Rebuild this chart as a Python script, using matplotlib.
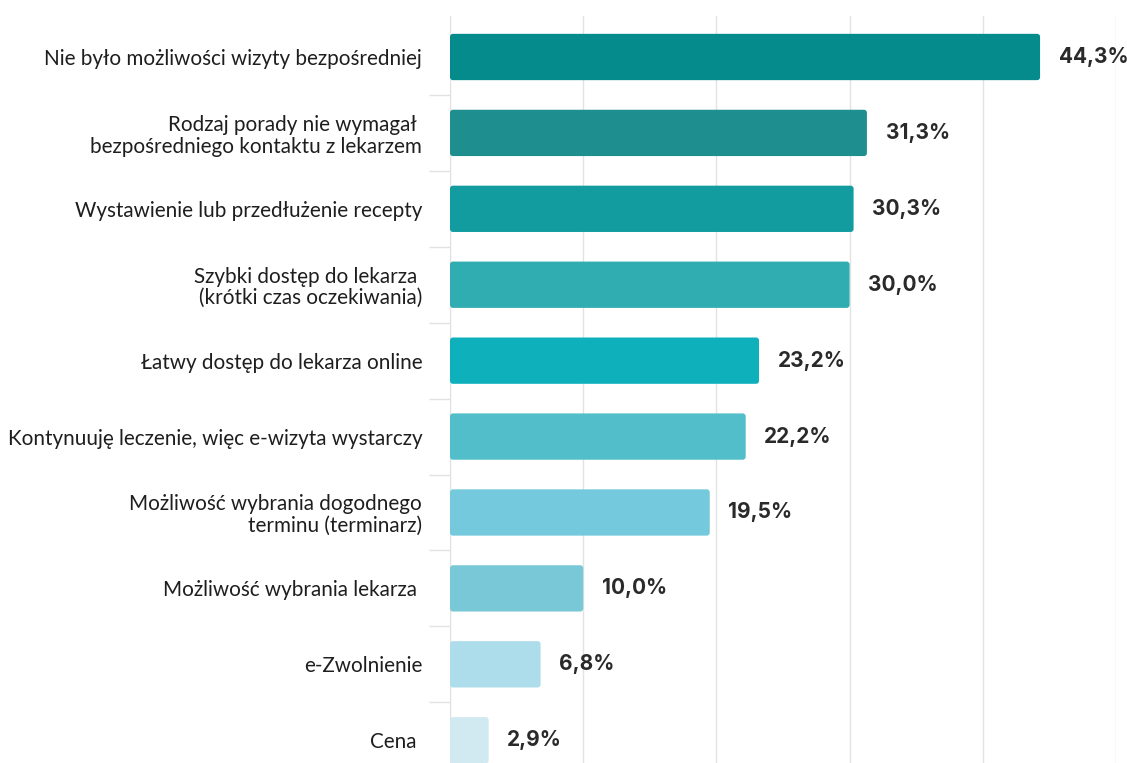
"""
Powody wyboru e-wizyty - poziomy wykres słupkowy
"""
import matplotlib
matplotlib.use("Agg")
from matplotlib import pyplot as plt
from matplotlib.patches import FancyBboxPatch
import numpy as np

categories = [
    "Nie było możliwości wizyty bezpośredniej",
    "Rodzaj porady nie wymagał \nbezpośredniego kontaktu z lekarzem",
    "Wystawienie lub przedłużenie recepty",
    "Szybki dostęp do lekarza \n(krótki czas oczekiwania)",
    "Łatwy dostęp do lekarza online",
    "Kontynuuję leczenie, więc e-wizyta wystarczy",
    "Możliwość wybrania dogodnego\nterminu (terminarz)",
    "Możliwość wybrania lekarza ",
    "e-Zwolnienie",
    "Cena ",
]
values = [44.3, 31.3, 30.3, 30.0, 23.2, 22.2, 19.5, 10.0, 6.8, 2.9]
colors = ["#068b8c", "#1f8e8f", "#139c9f", "#30adb0", "#0eb0bc",
          "#51bec9", "#75c9dd", "#79c8d7", "#addcea", "#d1eaf1"]

plt.rcParams['font.family'] = ['Lato', 'DejaVu Sans']

fig = plt.figure(figsize=(11.27, 7.63), dpi=100)
ax = fig.add_axes([450 / 1127, 0, 666 / 1127, 747 / 763])

y = np.arange(len(values))
bars = ax.barh(y, values, height=0.61, color=colors, zorder=3)

# zaokrąglone rogi słupków
for b in bars:
    b.set_visible(False)
    fb = FancyBboxPatch((b.get_x(), b.get_y()), b.get_width(), b.get_height(),
                        boxstyle="round,pad=0,rounding_size=0.22",
                        mutation_aspect=0.18, facecolor=b.get_facecolor(),
                        edgecolor="none", zorder=3)
    ax.add_patch(fb)

for yi, v in zip(y, values):
    ax.text(v + 1.4, yi, f"{v:.1f}%".replace(".", ","), va="center", ha="left",
            fontsize=15, fontweight="bold", family=['Inter', 'DejaVu Sans'],
            color="#2a2a2a", clip_on=False)

ax.set_xlim(0, 50)
ax.set_ylim(9.30, -0.54)
ax.set_xticks(np.arange(0, 51, 10))
ax.xaxis.grid(True, color="#e2e2e2", linewidth=1, zorder=0)
ax.tick_params(axis="x", length=0, labelbottom=False)

ax.set_yticks(y)
ax.set_yticklabels(categories, fontsize=14.9, color="#1e1e1e", linespacing=1.1)
ax.tick_params(axis="y", which="major", length=0, pad=20)
ax.set_yticks(np.arange(0.5, len(values) - 0.5, 1), minor=True)
ax.tick_params(axis="y", which="minor", length=15, color="#e2e2e2", width=1)

for s in ["top", "right", "bottom"]:
    ax.spines[s].set_visible(False)
ax.spines["left"].set_color("#e2e2e2")

fig.savefig("out.png", dpi=100)
